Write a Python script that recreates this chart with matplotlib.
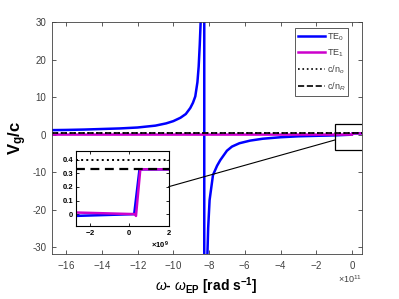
import matplotlib
matplotlib.use("Agg")
import matplotlib.pyplot as plt
from matplotlib.patches import Rectangle, ConnectionPatch

plt.rcParams['font.family'] = ['Liberation Sans', 'DejaVu Sans']
plt.rcParams['axes.unicode_minus'] = False
plt.rcParams['mathtext.fontset'] = 'custom'
plt.rcParams['mathtext.rm'] = 'Liberation Sans'
plt.rcParams['mathtext.it'] = 'Liberation Sans:italic'
plt.rcParams['mathtext.bf'] = 'Liberation Sans:bold'

# ---------------- data (x in rad/s) ----------------
te0_x = [-16.8e11, -16e11, -15e11, -14e11, -13e11, -12e11, -11e11, -10.4e11, -10e11,
         -9.6e11, -9.3e11, -9.05e11, -8.9e11, -8.77e11, -8.65e11, -8.58e11, -8.52e11,
         -8.47e11, -8.4e11, -8.27e11,
         -8.265e11, -8.14e11, -8.05e11, -7.97e11, -7.78e11, -7.55e11, -7.37e11, -7.0e11,
         -6.72e11, -6.3e11, -5.7e11, -5.0e11, -4.0e11, -3.0e11, -2.0e11, -0.95e11,
         -2.7e9, 0.25e9, 0.52e9, 2e9, 0.55e11]
te0_y = [1.2, 1.25, 1.35, 1.5, 1.65, 1.9, 2.4, 3.0, 3.6,
         4.5, 5.5, 7.1, 8.5, 10.2, 14.0, 18.2, 24.0,
         30.0, 45.0, 1e4,
         -1e4, -40.0, -25.0, -17.5, -10.8, -8.3, -6.8, -4.3,
         -3.2, -2.3, -1.6, -1.1, -0.7, -0.45, -0.32, -0.2,
         -0.013, 0.0, 0.33, 0.33, 0.33]

te1_x = [-16.8e11, -12e11, -8e11, -4e11, -1e11, -2.7e9, 0.3e9, 0.34e9, 0.56e9, 2e9, 0.55e11]
te1_y = [0.01, 0.01, 0.01, 0.01, 0.012, 0.012, 0.0, -0.013, 0.33, 0.33, 0.33]

c_over_no = 0.4
c_over_nR = 1.0 / 3.0

legend_labels = [r'TE$_0$', r'TE$_1$', r'c/n$_o$', r'c/n$_R$']

blue = '#0000FF'
mag = '#CC00CC'
axcol = '#404040'

fig = plt.figure(figsize=(3.99, 2.99), dpi=100)
ax = fig.add_axes([0.1296, 0.1515, 0.777, 0.774])

l0, = ax.plot(te0_x, te0_y, color=blue, lw=1.8)
l1, = ax.plot(te1_x, te1_y, color=mag, lw=1.8)
l2 = ax.axhline(c_over_no, color='k', ls=':', lw=1.2)
l3 = ax.axhline(c_over_nR, color='k', ls='--', lw=1.2)

ax.set_xlim(-16.8e11, 0.54e11)
ax.set_ylim(-31.8, 30)
ax.set_xticks([-16e11, -14e11, -12e11, -10e11, -8e11, -6e11, -4e11, -2e11, 0])
ax.set_yticks([-30, -20, -10, 0, 10, 20, 30])
ax.ticklabel_format(axis='x', style='sci', scilimits=(11, 11), useMathText=True)
ax.xaxis.get_offset_text().set_visible(False)
ax.text(1.0, -0.083, r'$\times$10$^{11}$', transform=ax.transAxes, ha='right',
        va='top', fontsize=6.5, color=axcol)
ax.tick_params(direction='in', length=3, width=0.6, labelsize=7, colors=axcol,
               top=True, right=True, pad=4)
for s in ax.spines.values():
    s.set_color(axcol)
    s.set_linewidth(0.6)

ax.set_xlabel(r'$\omega$- $\omega_{\mathbf{EP}}$ [rad s$^{\mathbf{-1}}$]',
              fontsize=10, fontweight='bold', labelpad=3)
ax.set_ylabel(r'V$_{\mathbf{g}}$/c', fontsize=12, fontweight='bold', labelpad=2)

leg = ax.legend([l0, l1, l2, l3], legend_labels, loc='upper right',
                bbox_to_anchor=(0.957, 0.974), borderaxespad=0, fontsize=6.5,
                handlelength=3.0, labelspacing=0.5, fancybox=False,
                edgecolor=axcol, framealpha=1, borderpad=0.35, handletextpad=0.2)
leg.get_frame().set_linewidth(0.6)
for t in leg.get_texts():
    t.set_color(axcol)

# zoom rectangle on main axes
rect_x0, rect_y0, rect_w, rect_h = -0.95e11, -4.1, 1.6e11, 7.0
ax.add_patch(Rectangle((rect_x0, rect_y0), rect_w, rect_h, fill=False,
                       edgecolor='k', lw=0.9, zorder=5))

# inset
axi = fig.add_axes([0.1905, 0.2452, 0.2323, 0.2498])
axi.plot(te0_x, te0_y, color=blue, lw=1.8)
axi.plot(te1_x, te1_y, color=mag, lw=1.8)
axi.axhline(c_over_no, color='k', ls=':', lw=1.4)
axi.axhline(c_over_nR, color='k', ls='--', lw=1.6, dashes=(4, 2.5))
axi.set_xlim(-2.7e9, 2e9)
axi.set_ylim(-0.085, 0.465)
axi.set_xticks([-2e9, 0, 2e9])
axi.set_yticks([0, 0.1, 0.2, 0.3, 0.4])
axi.set_yticklabels(['0', '0.1', '0.2', '0.3', '0.4'])
axi.ticklabel_format(axis='x', style='sci', scilimits=(9, 9), useMathText=True)
axi.xaxis.get_offset_text().set_visible(False)
axi.text(1.0, -0.19, r'$\mathbf{\times 10^{9}}$', transform=axi.transAxes, ha='right',
         va='top', fontsize=5.5, color='k')
axi.tick_params(direction='in', length=2.5, width=0.6, labelsize=5.5, colors='k',
                top=True, right=True, pad=2)
for t in axi.get_xticklabels() + axi.get_yticklabels():
    t.set_fontweight('bold')
for s in axi.spines.values():
    s.set_linewidth(0.8)
    s.set_color('k')

con = ConnectionPatch(xyA=(1.0, 0.522), coordsA=axi.transAxes,
                      xyB=(rect_x0, -1.42), coordsB=ax.transData,
                      color='k', lw=0.8)
fig.add_artist(con)

fig.savefig('out.png', dpi=100)
